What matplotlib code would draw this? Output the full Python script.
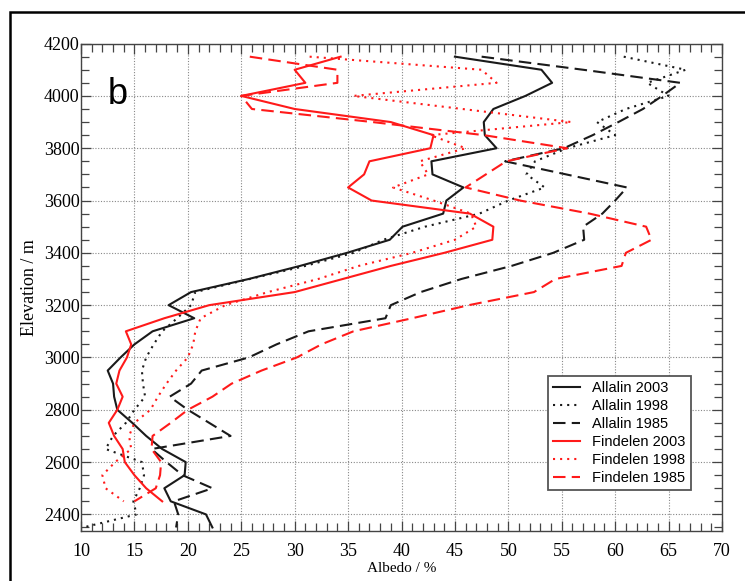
import numpy as np
import matplotlib
matplotlib.use("Agg")
import matplotlib.pyplot as plt
from matplotlib.ticker import MultipleLocator
from matplotlib.patches import Rectangle

# Elevation bands (m) used by all profiles
elev = [4150, 4100, 4050, 4000, 3950, 3900, 3850, 3800, 3750, 3700,
        3650, 3600, 3550, 3500, 3450, 3400, 3350, 3300, 3250, 3200,
        3150, 3100, 3050, 3000, 2950, 2900, 2850, 2800, 2750, 2700,
        2650, 2600, 2550, 2500, 2450, 2400, 2350]

# Albedo (%) per glacier / year
allalin_2003 = [45.0, 53.1, 54.1, 51.6, 48.6, 47.7, 47.8, 48.9, 42.8, 42.9,
                45.8, 44.2, 43.9, 40.1, 38.9, 34.9, 30.5, 25.7, 20.3, 18.2,
                20.6, 16.7, 15.0, 13.7, 12.5, 13.0, 13.1, 13.4, 14.8, 16.1,
                17.6, 19.8, 19.7, 17.8, 18.4, 21.7, 22.3]
allalin_1998 = [60.8, 66.6, 63.0, 65.0, 61.0, 58.3, 60.0, 55.5, 52.5, 51.7,
                53.4, 50.0, 47.3, 42.2, 38.3, 35.5, 31.0, 25.8, 20.7, 20.3,
                19.0, 17.6, 16.8, 16.1, 15.7, 15.8, 16.0, 15.0, 14.2, 13.0,
                12.3, 15.7, 15.9, 15.5, 14.9, 15.2, 10.2]
allalin_1985 = [47.5, 57.0, 66.1, 64.4, 62.6, 60.3, 57.9, 55.2, 49.7, 55.4,
                61.1, 60.0, 58.8, 57.0, 57.1, 54.2, 50.3, 45.6, 41.8, 39.0,
                38.5, 31.3, 28.3, 25.7, 21.3, 20.3, 18.3, 20.0, 22.0, 24.0,
                16.6, 18.0, 19.5, 22.3, 18.7, 19.1, 18.9]

elev_f = elev[:-2]
findelen_2003 = [34.3, 30.0, 31.0, 25.0, 30.0, 39.0, 43.0, 42.7, 37.0, 36.5,
                 35.0, 37.2, 46.4, 48.6, 48.5, 44.0, 39.0, 34.5, 30.0, 22.0,
                 17.8, 14.2, 14.7, 14.3, 13.6, 13.3, 13.9, 13.4, 12.6, 13.1,
                 13.9, 14.1, 15.0, 16.1, 17.6]
findelen_1998 = [31.4, 47.5, 48.9, 35.5, 45.7, 55.9, 42.7, 46.0, 41.7, 42.5,
                 39.2, 43.0, 46.5, 47.0, 45.0, 41.0, 36.0, 32.2, 27.5, 23.5,
                 21.2, 20.7, 20.5, 20.0, 18.9, 18.0, 17.2, 16.5, 15.0, 14.5,
                 14.7, 13.2, 12.0, 12.3, 14.0]
findelen_1985 = [25.8, 34.0, 34.0, 25.0, 26.0, 37.3, 47.7, 55.5, 49.8, 47.9,
                 46.0, 51.1, 57.6, 62.9, 63.4, 61.0, 60.6, 54.4, 52.4, 46.3,
                 41.0, 35.5, 32.5, 30.2, 26.9, 24.1, 22.3, 20.0, 18.4, 16.7,
                 16.6, 17.5, 17.4, 17.0, 15.0]

labels = ["Allalin 2003", "Allalin 1998", "Allalin 1985",
          "Findelen 2003", "Findelen 1998", "Findelen 1985"]

RED = "#ff1a1a"
BLK = "#1a1a1a"
LW = 1.5

fig = plt.figure(figsize=(7.45, 5.81), dpi=100)
# page frame (left and top edge of the original scan)
fig.patches.append(Rectangle((10/745, -0.1), 1.2, 1 - 12/581 + 0.1,
                             transform=fig.transFigure, fill=False,
                             edgecolor="black", lw=1.8))
ax = fig.add_axes([81/745, 1 - 531.4/581, 641/745, 487.8/581])

ax.plot(allalin_2003, elev, color=BLK, lw=LW, label=labels[0])
ax.plot(allalin_1998, elev, color=BLK, lw=LW, dashes=(1, 2.4), label=labels[1])
ax.plot(allalin_1985, elev, color=BLK, lw=LW, dashes=(6, 3), label=labels[2])
ax.plot(findelen_2003, elev_f, color=RED, lw=LW, label=labels[3])
ax.plot(findelen_1998, elev_f, color=RED, lw=LW, dashes=(1, 2.4), label=labels[4])
ax.plot(findelen_1985, elev_f, color=RED, lw=LW, dashes=(6, 3), label=labels[5])

ax.set_xlim(10, 70)
ax.set_ylim(2335, 4200)
ax.xaxis.set_major_locator(MultipleLocator(5))
ax.xaxis.set_minor_locator(MultipleLocator(1))
ax.yaxis.set_major_locator(MultipleLocator(200))
ax.yaxis.set_minor_locator(MultipleLocator(50))
ax.tick_params(which="both", direction="in", top=True, right=True,
               color="#444444", width=0.9)
ax.tick_params(which="major", length=7, labelsize=13)
ax.tick_params(which="minor", length=6)
ax.tick_params(axis="x", which="major", pad=8)
ax.tick_params(axis="y", which="major", pad=1)
for lab in ax.get_xticklabels() + ax.get_yticklabels():
    lab.set_family("Liberation Serif")
ax.grid(which="major", color="#888888", ls=(0, (1, 1.5)), lw=0.8)
for sp in ax.spines.values():
    sp.set_color("#444444")
    sp.set_linewidth(1.0)

ax.set_xlabel("Albedo / %", family="Liberation Serif", fontsize=11, labelpad=2)
ax.set_ylabel("Elevation / m", family="Liberation Serif", fontsize=13, labelpad=4)

ax.text(0.057, 0.895, "b", transform=ax.transAxes, family="Liberation Sans",
        fontsize=26, ha="center", va="center")

leg = ax.legend(loc="lower left", bbox_to_anchor=(0.728, 0.085),
                prop={"family": "Liberation Sans", "size": 10.5},
                fancybox=False, framealpha=1, edgecolor="#555555",
                handlelength=1.9, labelspacing=0.27, borderpad=0.35,
                handletextpad=0.8, borderaxespad=0)
leg.get_frame().set_linewidth(1.3)

fig.savefig("out.png", dpi=100)
